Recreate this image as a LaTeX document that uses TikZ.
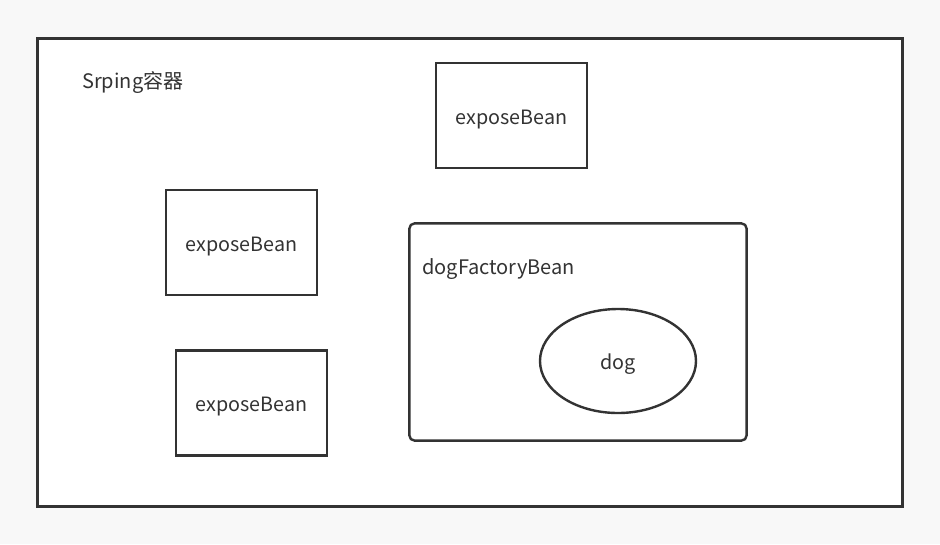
\documentclass[tikz,border=0pt]{standalone}
\usepackage{fontspec}
\setmainfont{Noto Sans CJK SC}
\usetikzlibrary{positioning,shapes.geometric}
\definecolor{ink}{HTML}{333333}
\definecolor{page}{HTML}{F8F8F8}
\tikzset{
  bean/.style={draw=ink,line width=1.8pt,fill=white,minimum width=113pt,minimum height=79pt,inner sep=0pt,font=\fontsize{14.8}{17}\selectfont,text=ink,text height=1.55em,text depth=.25em},
  factory/.style={draw=ink,line width=1.8pt,rounded corners=4pt,fill=white,minimum width=253pt,minimum height=163pt,inner sep=0pt},
  label/.style={font=\fontsize{15}{17}\selectfont,text=ink,anchor=west,inner sep=0pt},
}
\begin{document}
\begin{tikzpicture}[x=0.75pt,y=-0.75pt]
  \fill[page] (0,0) rectangle (940,544);
  \useasboundingbox (0,0) rectangle (940,544);
  % container
  \node[draw=ink,line width=2.1pt,fill=white,minimum width=649pt,minimum height=351pt,inner sep=0pt] (spring) at (470,272.5) {};
  \node[label] (springlbl) at (82,83) {Srping容器};
  % beans
  \node[bean] (bean1) at (511.5,115.5) {exposeBean};
  \node[bean] (bean2) at (241.5,242.5) {exposeBean};
  \node[bean] (bean3) at (251.5,403) {exposeBean};
  % factory bean
  \node[factory] (dogfb) at (578,332) {};
  \node[label] (dogfblbl) at (422,269) {dogFactoryBean};
  \node[bean,ellipse,minimum width=117pt,minimum height=78pt] (dog) at (618,361) {dog};
\end{tikzpicture}
\end{document}
